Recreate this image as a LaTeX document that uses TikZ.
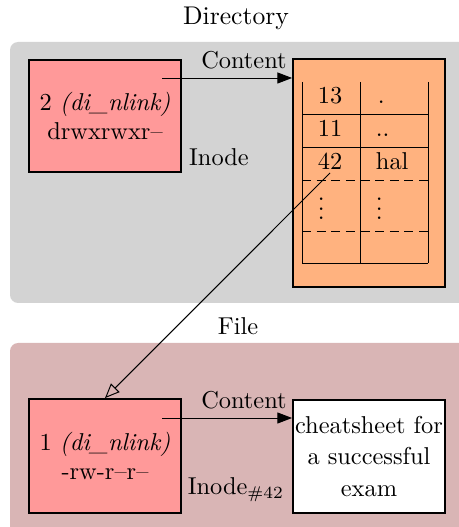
\documentclass[tikz,border=0pt]{standalone}
\usetikzlibrary{arrows.meta}
\definecolor{dirgray}{RGB}{211,211,211}
\definecolor{filebg}{RGB}{217,181,181}
\definecolor{inodepink}{RGB}{255,153,153}
\definecolor{blockorange}{RGB}{255,178,127}
\begin{document}
\begin{tikzpicture}[x=0.41pt,y=-0.41pt,
  inode/.style={draw,thick,fill=inodepink,minimum width=62.3pt,minimum height=45.9pt,align=center},
  block/.style={draw,thick,minimum width=62.3pt,align=center},
  cell/.style={anchor=base west,inner sep=1pt},
  ptr/.style={-{Triangle[length=6pt,width=4.5pt]}},
  link/.style={-{Triangle[open,length=6pt,width=5pt]}}]
\useasboundingbox (0,0) rectangle (458,527);

\fill[dirgray,rounded corners=3.3pt] (10,42) rectangle (480,303);
\fill[filebg,rounded corners=3.3pt] (10,343) rectangle (480,560);
\node[scale=1.05] (dirtitle) at (236,18) {Directory};
\node (filetitle) at (238,326) {File};

% directory
\node[inode] (dirinode) at (105,116) {2 \textit{(di\_nlink)}\\ drwxrwxr--};
\node (dirlabel) at (219,157) {Inode};
\node[block,fill=blockorange,minimum height=93.5pt] (dirblock) at (369,173) {};

\foreach \x in {302,360,428}
\draw (\x,82) -- (\x,263);
\foreach \y in {114,147,263}
\draw (302,\y) -- (428,\y);
\foreach \y in {180,231}
\draw[dash pattern=on 3.7pt off 2.3pt] (302,\y) -- (428,\y);

\node[cell] (n13) at (315,104) {13};
\node[cell] (dot1) at (375,104) {.};
\node[cell] (n11) at (315,137) {11};
\node[cell] (dot2) at (373,137) {..};
\node[cell] (n42) at (315,170) {42};
\node[cell] (hal) at (373,170) {hal};
\node[cell] (vd1) at (315,220) {$\vdots$};
\node[cell] (vd2) at (373,220) {$\vdots$};

\coordinate (dirptr) at (162,78);
\draw[ptr] (dirptr) -- (dirptr -| dirblock.west) node[above,pos=.63] (dircontent) {Content};

% file
\node[inode,minimum height=46.7pt] (fileinode) at (105,456) {1 \textit{(di\_nlink)}\\ -rw-r--r--};
\node (filelabel) at (236,490) {Inode$_{\#42}$};
\node[block,fill=white,inner xsep=0pt,minimum height=46.3pt] (fileblock) at (369,456.5)
  {cheatsheet for\\[1.1pt] a successful\\[1.1pt] exam};

\coordinate (fileptr) at (162,418);
\draw[ptr] (fileptr) -- (fileptr -| fileblock.west) node[above,pos=.63] (filecontent) {Content};

\draw[link] (n42.south) -- (fileinode.north);

\end{tikzpicture}
\end{document}
